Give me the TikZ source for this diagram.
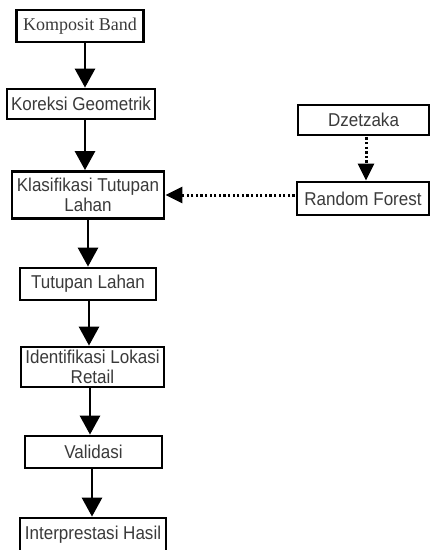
\documentclass[tikz,border=0pt]{standalone}
\usepackage{fontspec}
\setmainfont{Liberation Sans}
\newfontfamily\boxfont[FakeStretch=0.915]{Liberation Sans}
\newfontfamily\serifbox{Liberation Serif}
\usetikzlibrary{arrows.meta}
\definecolor{txt}{HTML}{3A3A3A}
\tikzset{
  box/.style={draw=black, line width=2.8pt, fill=white, text=txt, inner sep=0pt,
    align=center, font=\boxfont\fontsize{18.6}{20}\selectfont},
  flow/.style={line width=2.8pt, -{Triangle[width=20pt,length=19pt]}},
  dotflow/.style={line width=3pt, dash pattern=on 2.3pt off 2.3pt,
    -{Triangle[width=16pt,length=17pt]}, shorten <=1pt}
}
\begin{document}
\begin{tikzpicture}[x=1pt,y=-1pt]
\useasboundingbox (0,0) rectangle (431,550);
\node[box, minimum width=127pt, minimum height=32pt, font=\serifbox\fontsize{18}{20}\selectfont] (kb) at (80,26) {Komposit Band};
\node[box, minimum width=148pt, minimum height=30pt] (kg) at (81,104) {Koreksi Geometrik};
\node[box, minimum width=152pt, minimum height=47pt] (kt) at (88,195) {Klasifikasi Tutupan\\Lahan};
\node[box, minimum width=136pt, minimum height=32pt] (tl) at (88,284) {Tutupan Lahan};
\node[box, minimum width=143pt, minimum height=40pt] (il) at (92.5,367) {Identifikasi Lokasi\\Retail};
\node[box, minimum width=137pt, minimum height=32pt] (va) at (93.5,452) {Validasi};
\node[box, minimum width=146pt, minimum height=34pt] (ih) at (93,535) {Interprestasi Hasil};
\node[box, minimum width=131pt, minimum height=30pt] (dz) at (363.5,120) {Dzetzaka};
\node[box, minimum width=132pt, minimum height=33pt] (rf) at (363,198.5) {Random Forest};
\coordinate (x1) at (85,0);
\coordinate (x2) at (85,0);
\coordinate (x3) at (88,0);
\coordinate (x4) at (89,0);
\coordinate (x5) at (90,0);
\coordinate (x6) at (92,0);
\coordinate (xd) at (366,0);
\coordinate (yh) at (0,195);
\draw[flow] (kb.south -| x1) -- (kg.north -| x1);
\draw[flow] (kg.south -| x2) -- (kt.north -| x2);
\draw[flow] (kt.south -| x3) -- (tl.north -| x3);
\draw[flow] (tl.south -| x4) -- (il.north -| x4);
\draw[flow] (il.south -| x5) -- (va.north -| x5);
\draw[flow] (va.south -| x6) -- (ih.north -| x6);
\draw[dotflow] (dz.south -| xd) -- (rf.north -| xd);
\draw[dotflow] (rf.west |- yh) -- (kt.east |- yh);
\end{tikzpicture}
\end{document}
